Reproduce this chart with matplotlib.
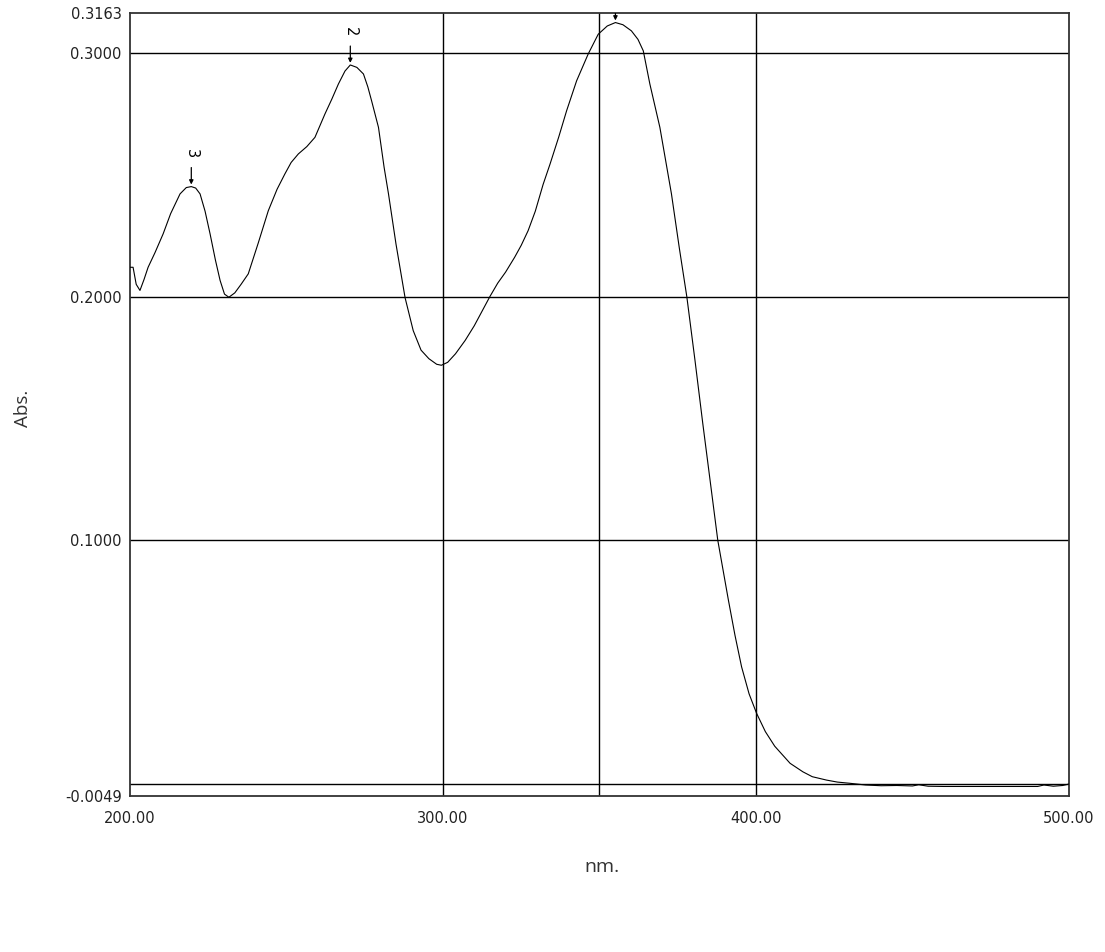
import matplotlib
matplotlib.use("Agg")
import matplotlib.pyplot as plt

plt.rcParams['font.family'] = ['DejaVu Sans']

# UV-Vis spectrum, values
wavelength = [200, 201, 202, 203.2, 204.5, 205.8, 208, 210.6, 213, 216, 218, 219.6,
              221, 222.4, 224, 225.6, 227.3, 228.8, 230.2, 231.6, 233.5, 235.5, 237.8,
              241, 244.2, 247, 249.5, 251.5, 253.8, 256.5, 259.1, 262.3, 264.5, 266.6,
              268.7, 270.4, 272.5, 274.6, 276, 277.2, 279.4, 281.2, 282.6, 285, 287.9,
              290.5, 293, 295.5, 298, 299.5, 301.5, 304, 307.1, 310, 312.5, 315, 317.5,
              320, 322.9, 325, 327.2, 329.5, 332, 334.2, 337, 339.5, 342.7, 346.4,
              349.6, 352.5, 355.1, 357.5, 360.2, 362.3, 364, 366.1, 369.3, 373, 375.5,
              377.9, 380.5, 383, 385.5, 387.8, 391.2, 393.3, 395.4, 397.8, 400.2, 403,
              406, 410.9, 415, 418, 422.6, 426, 430, 435, 440, 445, 450, 452, 455, 460,
              470, 480, 490, 492, 495, 498, 500]
absorbance = [0.2120, 0.2120, 0.2050, 0.2025, 0.2070, 0.2120, 0.2180, 0.2257, 0.2340,
              0.2421, 0.2447, 0.2451, 0.2445, 0.2421, 0.2350, 0.2257, 0.2150, 0.2066,
              0.2010, 0.1997, 0.2015, 0.2050, 0.2093, 0.2220, 0.2352, 0.2440, 0.2503,
              0.2550, 0.2585, 0.2615, 0.2653, 0.2749, 0.2810, 0.2872, 0.2925, 0.2950,
              0.2940, 0.2913, 0.2860, 0.2803, 0.2694, 0.2530, 0.2421, 0.2215, 0.1995,
              0.1860, 0.1780, 0.1745, 0.1722, 0.1718, 0.1730, 0.1765, 0.1820, 0.1880,
              0.1940, 0.2000, 0.2055, 0.2100, 0.2161, 0.2210, 0.2270, 0.2350, 0.2460,
              0.2543, 0.2655, 0.2762, 0.2885, 0.2995, 0.3076, 0.3110, 0.3124, 0.3115,
              0.3090, 0.3055, 0.3008, 0.2872, 0.2694, 0.2421, 0.2200, 0.2000, 0.1740,
              0.1480, 0.1230, 0.1000, 0.0754, 0.0610, 0.0481, 0.0370, 0.0290, 0.0215,
              0.0155, 0.0085, 0.0050, 0.0030, 0.0016, 0.0008, 0.0003, -0.0004, -0.0007,
              -0.0006, -0.0008, -0.0003, -0.0009, -0.0010, -0.0010, -0.0010, -0.0010,
              -0.0004, -0.0009, -0.0006, 0.0000]

peak_labels = ['1', '2', '3']
peak_nm = [355.1, 270.4, 219.6]
peak_abs = [0.3124, 0.2950, 0.2451]

x_ticks = [200, 300, 400, 500]
y_ticks = [-0.0049, 0.1, 0.2, 0.3, 0.3163]
x_grid = [300, 350, 400]
y_grid = [0.0, 0.1, 0.2, 0.3]

fig = plt.figure(figsize=(11.05, 9.52), dpi=100)
ax = fig.add_axes([0.1176, 0.1639, 0.8498, 0.8224])
ax.set_xlim(200, 500)
ax.set_ylim(-0.0049, 0.3163)

for g in x_grid:
    ax.axvline(g, color='black', lw=1.0, zorder=1)
for g in y_grid:
    ax.axhline(g, color='black', lw=1.0, zorder=1)

ax.plot(wavelength, absorbance, color='black', lw=0.8, zorder=3)

# peak pick markers, label of the top peak falls outside the frame (cut off in the scan)
for lab, px, py in zip(peak_labels, peak_nm, peak_abs):
    txt = lab if py + 0.014 < ax.get_ylim()[1] else ''
    ann = ax.annotate(txt, xy=(px, py), xytext=(0, 24), textcoords='offset points',
                      rotation=270, ha='center', va='center', fontsize=10.5,
                      clip_on=True,
                      arrowprops=dict(arrowstyle='-|>', color='black', lw=0.9,
                                      mutation_scale=6, shrinkA=5, shrinkB=1.5))
    ann.arrow_patch.set_clip_path(ax.patch)

ax.set_xticks(x_ticks)
ax.set_xticklabels(['%.2f' % v for v in x_ticks])
ax.set_yticks(y_ticks)
ax.set_yticklabels(['%.4f' % v for v in y_ticks])
ax.tick_params(length=0, labelsize=10.5, colors='#222222')
ax.tick_params(axis='x', pad=11)
ax.tick_params(axis='y', pad=6)
for s in ax.spines.values():
    s.set_linewidth(1.3)
    s.set_color('#333333')

fig.text(0.021, 0.571, 'Abs.', rotation=90, ha='center', va='center',
         fontsize=13.5, family='Open Sans', color='#333333')
fig.text(0.545, 0.089, 'nm.', ha='center', va='center', fontsize=14,
         family='Open Sans', color='#333333',
         bbox=dict(facecolor='white', edgecolor='none', pad=14))

fig.savefig('out.png', dpi=100)
